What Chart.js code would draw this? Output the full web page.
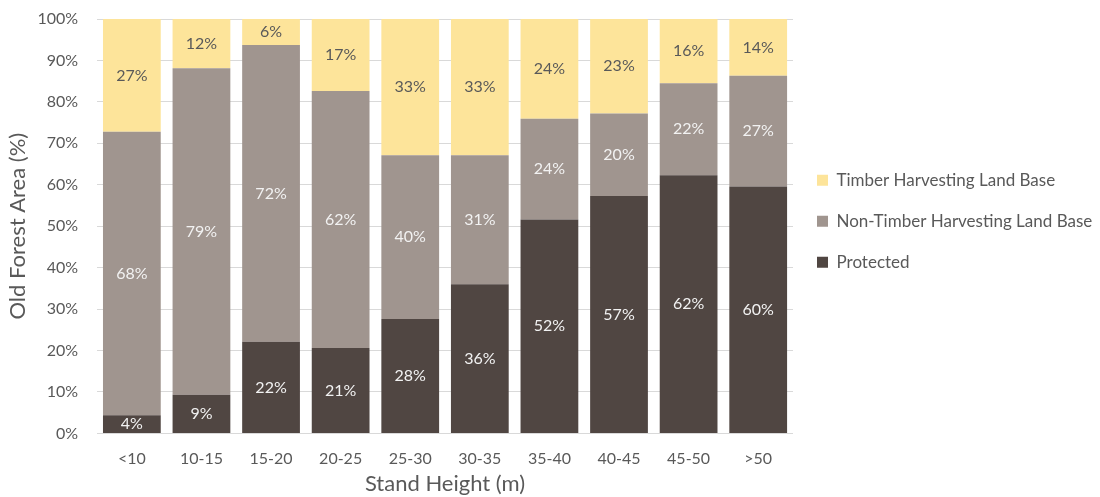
<!DOCTYPE html>
<html>
<head>
<meta charset="utf-8">
<script src="https://cdn.jsdelivr.net/npm/chart.js@4"></script>
<style>
  html, body { margin: 0; padding: 0; background: #fff; }
  #wrap { width: 1100px; height: 497px; }
</style>
</head>
<body>
<div id="wrap"><canvas id="chart" width="1100" height="497"></canvas></div>
<script>
// Share of old forest area by stand height class
const heightClasses = ['<10', '10-15', '15-20', '20-25', '25-30', '30-35', '35-40', '40-45', '45-50', '>50'];
const protectedPct = [4.4, 9.3, 22.1, 20.6, 27.6, 36.0, 51.6, 57.3, 62.3, 59.6];
const nonThlbPct   = [68.4, 78.8, 71.6, 62.0, 39.5, 31.1, 24.3, 19.9, 22.2, 26.7];
const thlbPct      = [27.2, 11.9, 6.3, 17.4, 32.9, 32.9, 24.1, 22.8, 15.5, 13.7];
const yTicks = [0, 10, 20, 30, 40, 50, 60, 70, 80, 90, 100];

const FONT = 'Lato, "Open Sans", sans-serif';
Chart.defaults.font.family = FONT;
Chart.defaults.color = '#595959';

// Writes the rounded value in the middle of every segment
const segmentLabels = {
  id: 'segmentLabels',
  afterDatasetsDraw(chart) {
    const ctx = chart.ctx;
    ctx.save();
    ctx.font = '16px ' + FONT;
    ctx.textAlign = 'center';
    ctx.textBaseline = 'middle';
    chart.data.datasets.forEach((ds, di) => {
      chart.getDatasetMeta(di).data.forEach((bar, i) => {
        const mid = (bar.y + bar.base) / 2;
        ctx.fillStyle = ds.labelColor;
        ctx.fillText(Math.round(ds.data[i]) + '%', bar.x, mid);
      });
    });
    ctx.restore();
  }
};

// Nudge the legend block up a little
const legendShift = {
  id: 'legendShift',
  afterLayout(chart) {
    chart.legend.top -= 5;
    chart.legend.bottom -= 5;
  }
};

new Chart(document.getElementById('chart'), {
  type: 'bar',
  data: {
    labels: heightClasses,
    datasets: [
      { label: 'Protected', data: protectedPct, backgroundColor: '#504642', labelColor: '#f2f2f2' },
      { label: 'Non-Timber Harvesting Land Base', data: nonThlbPct, backgroundColor: '#a0958f', labelColor: '#f2f2f2' },
      { label: 'Timber Harvesting Land Base', data: thlbPct, backgroundColor: '#fde49a', labelColor: '#595959' },
    ].map(ds => ({ ...ds, categoryPercentage: 1, barPercentage: 0.83, borderWidth: 0 })),
  },
  options: {
    responsive: false,
    animation: false,
    layout: { padding: { top: 19, right: 0, left: 0, bottom: 0 } },
    plugins: {
      tooltip: { enabled: false },
      legend: {
        position: 'right',
        fullSize: false,
        maxWidth: 307,
        reverse: true,
        labels: {
          boxWidth: 11,
          boxHeight: 11,
          padding: 24,
          color: '#595959',
          font: { size: 17 },
        },
      },
    },
    scales: {
      x: {
        stacked: true,
        grid: { display: false, drawTicks: false },
        border: { display: false },
        ticks: { font: { size: 16 }, padding: 16 },
        title: { display: true, text: 'Stand Height (m)', font: { size: 22 }, padding: { top: 9, bottom: 0 } },
        afterFit: axis => { axis.height -= 23; },
      },
      y: {
        stacked: true,
        min: 0,
        max: 100,
        afterBuildTicks: axis => { axis.ticks = yTicks.map(v => ({ value: v })); },
        grid: { color: '#d9d9d9', drawTicks: false },
        border: { display: false },
        ticks: { font: { size: 16 }, padding: 19, callback: v => v + '%' },
        title: { display: true, text: 'Old Forest Area (%)', font: { size: 22 }, padding: { top: 5, bottom: 5 } },
        afterFit: axis => {
          axis.width -= 18;
          axis.paddingTop = 0;
          axis.paddingBottom = 0;
        },
      },
    },
  },
  plugins: [segmentLabels, legendShift],
});
</script>
</body>
</html>
